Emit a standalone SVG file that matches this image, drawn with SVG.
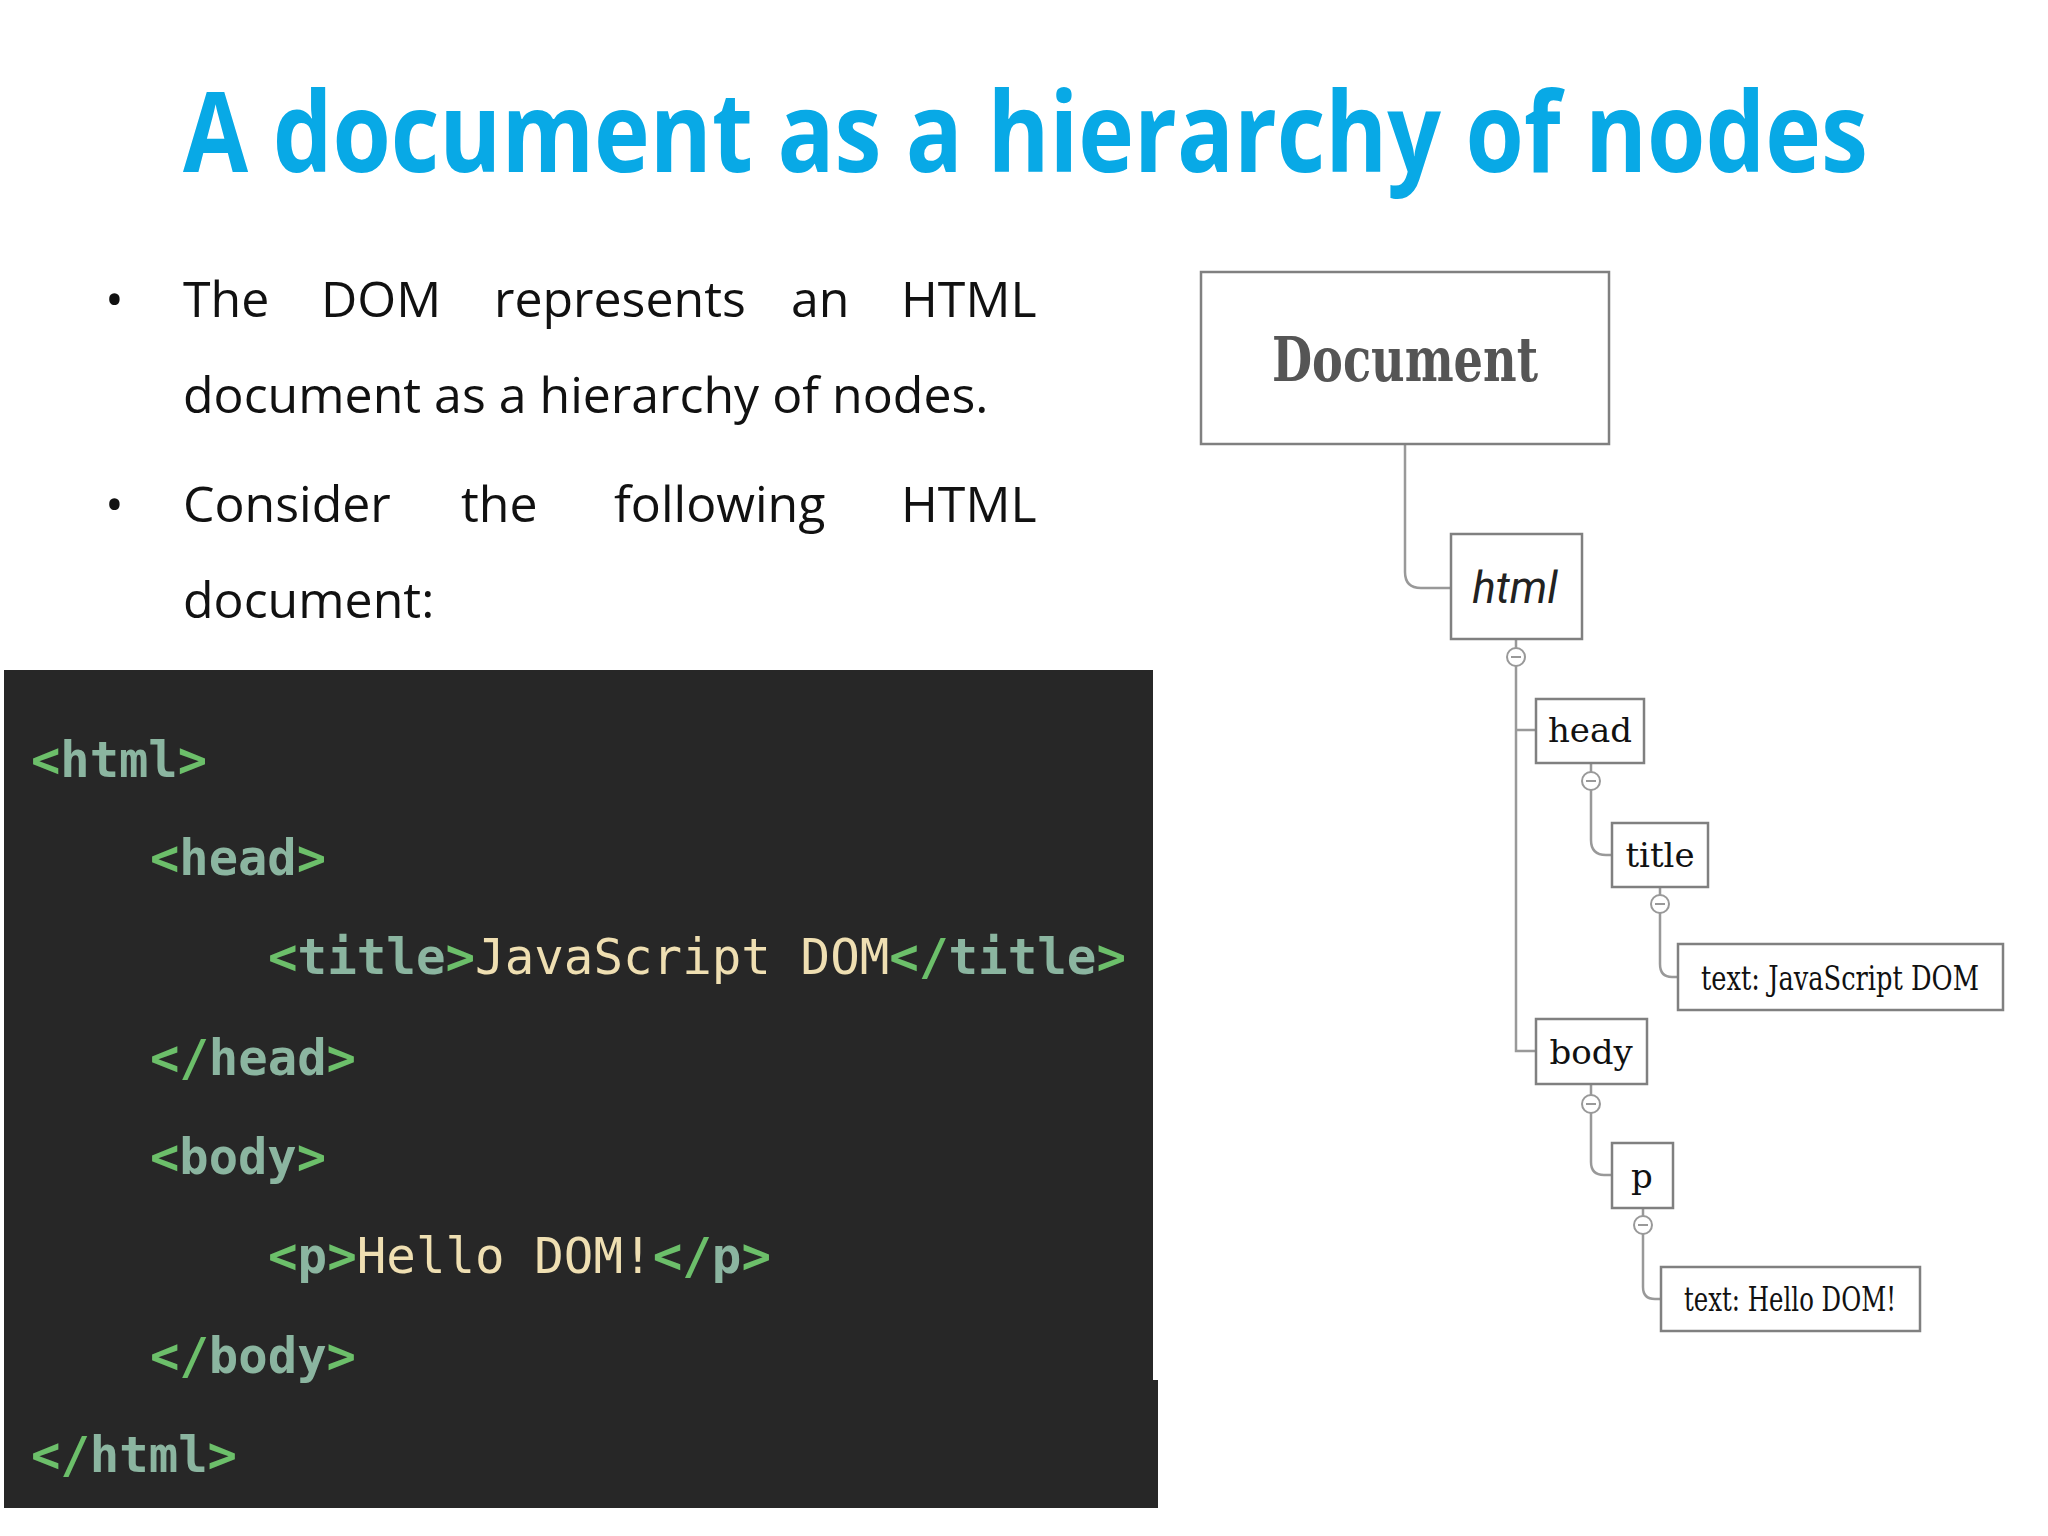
<svg xmlns="http://www.w3.org/2000/svg" width="2048" height="1536" viewBox="0 0 2048 1536">
<style>
.title{font-family:"Open Sans","Liberation Sans",sans-serif;font-weight:bold;font-size:112px;fill:#08a9e6}
.b{font-family:"Open Sans","Liberation Sans",sans-serif;font-size:50px;fill:#111}
.code{font-family:"DejaVu Sans Mono","Liberation Mono",monospace;font-size:50px;font-weight:bold}
.t{fill:#8bb5a0}.k{fill:#6cbf6a}.x{fill:#efdfb2;font-weight:normal}
.box{fill:#fff;stroke:#808080;stroke-width:2.5}
.n{font-family:"DejaVu Serif","Liberation Serif",serif;font-size:34px;fill:#111;text-anchor:middle}
.ln{fill:none;stroke:#999;stroke-width:2.5}
.c{fill:#fff;stroke:#999;stroke-width:2}
</style>
<rect width="2048" height="1536" fill="#fff"/>
<text class="title" x="183" y="172" textLength="1685" lengthAdjust="spacingAndGlyphs">A document as a hierarchy of nodes</text>
<g id="bullets" class="b">
<text x="105" y="317">•</text>
<text x="183" y="317">The</text><text x="321" y="317">DOM</text><text x="494" y="317">represents</text><text x="791" y="317">an</text><text x="901" y="317">HTML</text>
<text x="183" y="413">document as a hierarchy of nodes.</text>
<text x="105" y="522">•</text>
<text x="183" y="522">Consider</text><text x="461" y="522">the</text><text x="614" y="522">following</text><text x="901" y="522">HTML</text>
<text x="183" y="618">document:</text>
</g>
<g id="code">
<rect x="4" y="670" width="1149" height="838" fill="#272727"/>
<rect x="1100" y="1380" width="58" height="128" fill="#272727"/>
<text class="code" x="31" y="777" textLength="176" lengthAdjust="spacingAndGlyphs"><tspan class="k">&lt;</tspan><tspan class="t">html</tspan><tspan class="k">&gt;</tspan></text>
<text class="code" x="150" y="875" textLength="176" lengthAdjust="spacingAndGlyphs"><tspan class="k">&lt;</tspan><tspan class="t">head</tspan><tspan class="k">&gt;</tspan></text>
<text class="code" x="268" y="974" textLength="858" lengthAdjust="spacingAndGlyphs"><tspan class="k">&lt;</tspan><tspan class="t">title</tspan><tspan class="k">&gt;</tspan><tspan class="x">JavaScript DOM</tspan><tspan class="k">&lt;/</tspan><tspan class="t">title</tspan><tspan class="k">&gt;</tspan></text>
<text class="code" x="150" y="1075" textLength="206" lengthAdjust="spacingAndGlyphs"><tspan class="k">&lt;/</tspan><tspan class="t">head</tspan><tspan class="k">&gt;</tspan></text>
<text class="code" x="150" y="1174" textLength="176" lengthAdjust="spacingAndGlyphs"><tspan class="k">&lt;</tspan><tspan class="t">body</tspan><tspan class="k">&gt;</tspan></text>
<text class="code" x="268" y="1273" textLength="503" lengthAdjust="spacingAndGlyphs"><tspan class="k">&lt;</tspan><tspan class="t">p</tspan><tspan class="k">&gt;</tspan><tspan class="x">Hello DOM!</tspan><tspan class="k">&lt;/</tspan><tspan class="t">p</tspan><tspan class="k">&gt;</tspan></text>
<text class="code" x="150" y="1373" textLength="206" lengthAdjust="spacingAndGlyphs"><tspan class="k">&lt;/</tspan><tspan class="t">body</tspan><tspan class="k">&gt;</tspan></text>
<text class="code" x="31" y="1472" textLength="206" lengthAdjust="spacingAndGlyphs"><tspan class="k">&lt;/</tspan><tspan class="t">html</tspan><tspan class="k">&gt;</tspan></text>
</g>
<g id="connectors">
<path class="ln" d="M1405 444 V572 Q1405 588 1421 588 H1451"/>
<path class="ln" d="M1516 639 V1051 H1536 M1516 730 H1536"/>
<path class="ln" d="M1591 763 V840 Q1591 855 1606 855 H1612"/>
<path class="ln" d="M1660 887 V964 Q1660 977 1672 977 H1678"/>
<path class="ln" d="M1591 1084 V1162 Q1591 1175 1604 1175 H1612"/>
<path class="ln" d="M1643 1208 V1287 Q1643 1299 1655 1299 H1661"/>
<g class="c"><circle cx="1516" cy="657" r="9"/><circle cx="1591" cy="781" r="9"/><circle cx="1660" cy="904" r="9"/><circle cx="1591" cy="1104" r="9"/><circle cx="1643" cy="1225" r="9"/></g>
<g stroke="#999" stroke-width="2"><path d="M1511 657h10M1586 781h10M1655 904h10M1586 1104h10M1638 1225h10"/></g>
</g>
<g id="n-document"><rect class="box" x="1201" y="272" width="408" height="172"/><text x="1405" y="381" font-family="DejaVu Serif,serif" font-weight="bold" font-size="62" fill="#555" text-anchor="middle" textLength="266" lengthAdjust="spacingAndGlyphs">Document</text></g>
<g id="n-html"><rect class="box" x="1451" y="534" width="131" height="105"/><text x="1515" y="603" font-family="Roboto,sans-serif" font-style="italic" font-size="44" fill="#222" text-anchor="middle">html</text></g>
<g id="n-head"><rect class="box" x="1536" y="699" width="108" height="64"/><text class="n" x="1590" y="742">head</text></g>
<g id="n-title"><rect class="box" x="1612" y="823" width="96" height="64"/><text class="n" x="1660" y="867">title</text></g>
<g id="n-text1"><rect class="box" x="1678" y="944" width="325" height="66"/><text class="n" x="1840" y="990" textLength="278" lengthAdjust="spacingAndGlyphs">text: JavaScript DOM</text></g>
<g id="n-body"><rect class="box" x="1536" y="1019" width="111" height="65"/><text class="n" x="1591" y="1064">body</text></g>
<g id="n-p"><rect class="box" x="1612" y="1143" width="61" height="65"/><text class="n" x="1642" y="1188">p</text></g>
<g id="n-text2"><rect class="box" x="1661" y="1267" width="259" height="64"/><text class="n" x="1790" y="1311" textLength="212" lengthAdjust="spacingAndGlyphs">text: Hello DOM!</text></g>
</svg>
